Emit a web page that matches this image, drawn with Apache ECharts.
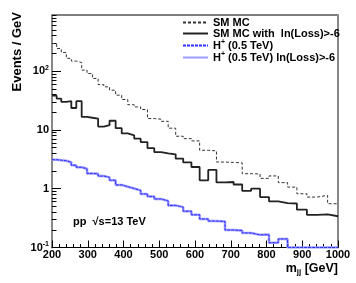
<!DOCTYPE html>
<html><head><meta charset="utf-8">
<script src="https://cdn.jsdelivr.net/npm/echarts@6/dist/echarts.min.js"></script>
<style>html,body{margin:0;padding:0;background:#fff}#c{width:356px;height:283px}</style>
</head><body><div id="c"></div>
<script>
// bin edges in m_jj (GeV), variable width
const edges = [200,213,226,240,254,268,283,298,313,329,345,361,378,395,412,430,448,467,486,505,525,546,567,590,613,637,660,684,708,732,757,782,807,833,859,885,913,942,971,1000];
// Events / GeV per bin
const smMC = [294,242,207,165,148,140,104,91,75,59,54,47.4,39,32.9,26.8,24.6,22.2,15.6,15.2,14.0,10.7,7.8,7.1,6.5,4.5,4.4,2.84,2.8,2.75,1.8,1.78,1.5,1.65,1.27,1.065,0.82,0.72,0.77,0.555];
const smMCcut = [38.2,34,30,30.8,23.6,30.8,16.6,16.1,15.6,11.4,12.1,14.3,10.7,8.7,8.1,7.1,6.2,4.9,4.2,4.0,3.85,3.25,2.8,2.34,1.39,2.09,1.28,1.30,1.18,0.92,1.0,0.72,0.61,0.57,0.56,0.44,0.36,0.367,0.34];
const hpMC = [3.12,3.05,2.98,2.81,2.50,2.31,2.18,1.82,1.79,1.64,1.56,1.39,1.16,1.08,1.01,0.935,0.815,0.74,0.67,0.62,0.52,0.486,0.415,0.36,0.305,0.282,0.277,0.198,0.195,0.177,0.164,0.166,0.121,0.14,0,0,0,0,0];
const hpMCcut = [3.12,3.05,2.98,2.81,2.50,2.31,2.18,1.82,1.79,1.64,1.56,1.39,1.16,1.08,1.01,0.935,0.815,0.74,0.67,0.62,0.52,0.486,0.415,0.36,0.305,0.282,0.277,0.198,0.195,0.177,0.164,0.166,0.121,0.14,0,0,0,0,0];
const seriesNames = ['SM MC','SM MC with  ln(Loss)>-6','H+ (0.5 TeV)','H+ (0.5 TeV) ln(Loss)>-6'];
const yMajor = [0.1,1,10,100];
const yMinor = [0.2,0.3,0.4,0.5,0.6,0.7,0.8,0.9,2,3,4,5,6,7,8,9,20,30,40,50,60,70,80,90,200,300,400,500,600,700,800,900];
const yLabelText = {'0.1':'10{sup|-1}','1':'1','10':'10','100':'10{sup|2}'};
const yMin = 0.1, yMax = 900;
const FONT = '"Liberation Sans", Arial, sans-serif';

function steps(vals){
  const pts = vals.map((v,i)=>[edges[i], Math.max(v,yMin)]);
  pts.push([edges[edges.length-1], Math.max(vals[vals.length-1],yMin)]);
  return pts;
}

const chart = echarts.init(document.getElementById('c'), null, {renderer:'canvas'});
const logAxisBase = {type:'log', logBase:10, min:yMin, max:yMax, splitLine:{show:false}, gridIndex:0};
chart.setOption({
  animation:false,
  grid:{left:52, top:15, width:286, height:232.5, show:true, borderColor:'#000', borderWidth:1},
  xAxis:{type:'value', min:200, max:1000, interval:100,
    axisLine:{show:true, lineStyle:{color:'#000', width:1}},
    axisTick:{show:true, inside:true, length:7, lineStyle:{color:'#000'}},
    minorTick:{show:true, splitNumber:5, length:3.5, lineStyle:{color:'#000'}},
    splitLine:{show:false}, minorSplitLine:{show:false},
    axisLabel:{margin:2, fontFamily:FONT, fontWeight:'bold', fontSize:11, color:'#000',
      formatter:v=>String(Math.round(v))}},
  yAxis:[
    Object.assign({}, logAxisBase, {position:'left',
      axisLine:{show:true, lineStyle:{color:'#888', width:2}},
      axisTick:{show:true, inside:true, length:9, customValues:yMajor, lineStyle:{color:'#000'}},
      axisLabel:{customValues:yMajor, margin:3, fontFamily:FONT, fontWeight:'bold', fontSize:11, color:'#000',
        formatter:v=>yLabelText[String(+v.toPrecision(3))] || '',
        rich:{sup:{fontSize:7, fontWeight:'bold', fontFamily:FONT, padding:[0,0,7,0]}}}}),
    Object.assign({}, logAxisBase, {position:'left', offset:0,
      axisLine:{show:false},
      axisTick:{show:true, inside:true, length:4.5, customValues:yMinor, lineStyle:{color:'#000'}},
      axisLabel:{show:false}}),
    Object.assign({}, logAxisBase, {position:'right',
      axisLine:{show:true, lineStyle:{color:'#888', width:2}},
      axisTick:{show:false}, axisLabel:{show:false}})
  ],
  legend:{orient:'vertical', left:182, top:17, padding:0, itemGap:0, itemWidth:25, itemHeight:9,
    data:seriesNames, selectedMode:false,
    itemStyle:{opacity:0},
    textStyle:{fontFamily:FONT, fontWeight:'bold', fontSize:11, color:'#000', lineHeight:9,
      rich:{sup:{fontSize:7, fontWeight:'bold', fontFamily:FONT, padding:[0,0,6,0]}}},
    formatter:name=>name.replace('H+','H{sup|+}')},
  graphic:[
    {type:'text', x:17, y:12, rotation:Math.PI/2,
      style:{text:'Events / GeV', font:'bold 13px '+FONT, fill:'#000', align:'right', verticalAlign:'middle'}},
    {type:'text', x:73, y:221.5,
      style:{text:'pp  √s=13 TeV', font:'bold 11px '+FONT, fill:'#000', verticalAlign:'middle'}},
    {type:'text', x:338, y:269,
      style:{text:'{m|m}{sub|jj}{m| [GeV]}', align:'right', verticalAlign:'middle', fill:'#000',
        rich:{m:{fontSize:12.5, fontWeight:'bold', fontFamily:FONT}, sub:{fontSize:8, fontWeight:'bold', fontFamily:FONT, padding:[6,0,0,0]}}}}
  ],
  series:[
    {name:seriesNames[0], type:'line', step:'end', symbol:'none', data:steps(smMC), z:2,
      lineStyle:{color:'#333', width:1, type:[3,2]}, itemStyle:{color:'#333'}},
    {name:seriesNames[1], type:'line', step:'end', symbol:'none', data:steps(smMCcut), z:3,
      lineStyle:{color:'#222', width:1.8, type:'solid'}, itemStyle:{color:'#222'}},
    {name:seriesNames[3], type:'line', step:'end', symbol:'none', data:steps(hpMCcut), z:4,
      lineStyle:{color:'#9c9cff', width:2.5, type:'solid'}, itemStyle:{color:'#9c9cff'}},
    {name:seriesNames[2], type:'line', step:'end', symbol:'none', data:steps(hpMC), z:5,
      lineStyle:{color:'#3030ff', width:1, type:[3,1]}, itemStyle:{color:'#3030ff'}}
  ]
});
</script></body></html>
